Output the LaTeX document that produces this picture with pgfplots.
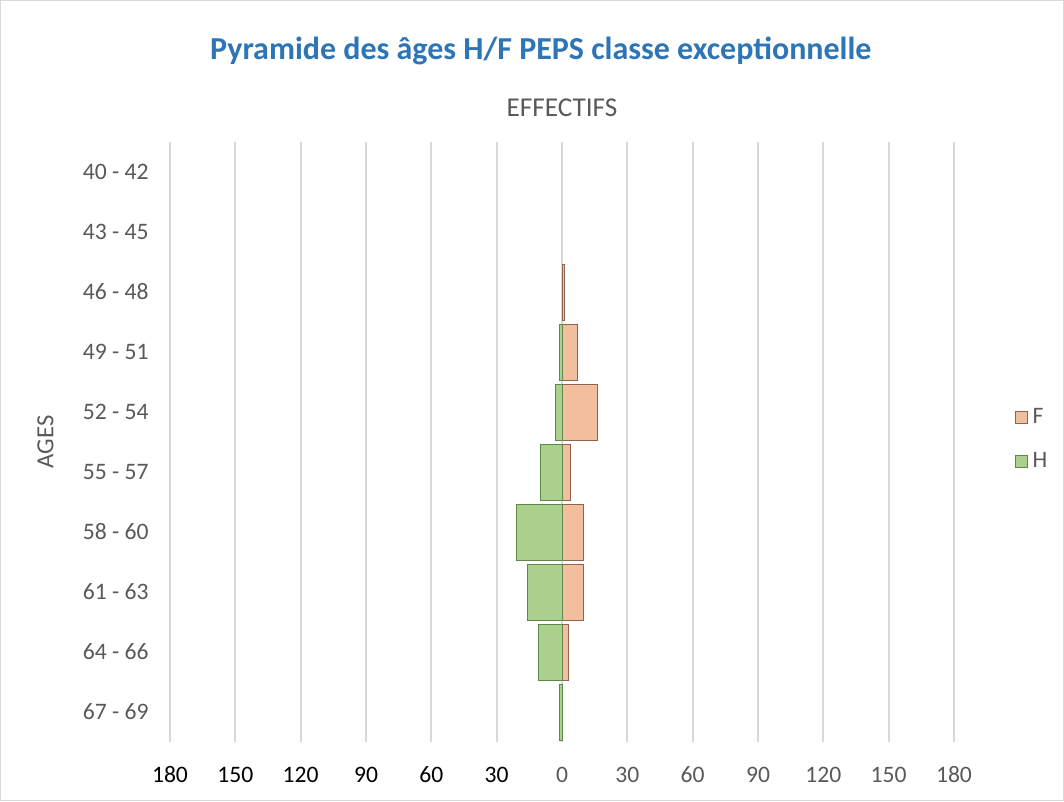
\documentclass[border=0pt]{standalone}
\usepackage{pgfplots}
\pgfplotsset{compat=1.18}
\usepackage{fontspec}
\setmainfont{Carlito}
\definecolor{titleblue}{RGB}{46,117,182}
\definecolor{txtgray}{RGB}{89,89,89}
\definecolor{gridgray}{RGB}{217,217,217}
\definecolor{ffill}{RGB}{242,190,158}
\definecolor{fdraw}{RGB}{140,100,80}
\definecolor{hfill}{RGB}{170,208,140}
\definecolor{hdraw}{RGB}{95,135,75}
\begin{document}
\begin{tikzpicture}
\useasboundingbox (0,0) rectangle (798pt,600.75pt);
\draw[gridgray, line width=0.8pt] (0.4pt,0.4pt) rectangle (797.6pt,600.35pt);
\begin{axis}[
  at={(127.5pt,44.25pt)}, anchor=south west,
  scale only axis, width=588pt, height=450pt,
  xmin=-180, xmax=180, ymin=-0.5, ymax=9.5,
  y dir=reverse,
  axis line style={draw=none},
  major tick length=0pt,
  xtick={-180,-150,...,180},
  xticklabels={180,150,120,90,60,30,\textcolor{txtgray}{0},\textcolor{txtgray}{30},\textcolor{txtgray}{60},\textcolor{txtgray}{90},\textcolor{txtgray}{120},\textcolor{txtgray}{150},\textcolor{txtgray}{180}},
  xticklabel style={font=\fontsize{17.7}{21}\selectfont, text=black, text height=12pt, text depth=0pt, anchor=north, yshift=-15pt},
  ytick={0,...,9},
  yticklabels={40 - 42,43 - 45,46 - 48,49 - 51,52 - 54,55 - 57,58 - 60,61 - 63,64 - 66,67 - 69},
  yticklabel style={font=\fontsize{17.7}{21}\selectfont, text=txtgray, xshift=-12.5pt},
  /pgf/number format/assume math mode=true,
  xmajorgrids, grid style={gridgray, line width=1.3pt},
  xbar, bar shift=0pt, bar width=0.93,
  title={Pyramide des âges H/F PEPS classe exceptionnelle},
  title style={font=\fontsize{24}{28}\bfseries, text=titleblue, at={(axis description cs:0.473,1)}, anchor=center, yshift=62pt},
  xlabel={EFFECTIFS},
  xlabel style={font=\fontsize{20.4}{24}\selectfont, text=txtgray, at={(axis description cs:0.5,1)}, anchor=center, yshift=25.5pt},
  ylabel={AGES},
  ylabel style={font=\fontsize{18.5}{22}\selectfont, text=txtgray, at={(axis description cs:-0.159,0.5)}, anchor=center, rotate=0},
  legend style={at={(axis description cs:1.072,0.565)}, anchor=north west, draw=none, fill=none,
    font=\fontsize{17.7}{21}\selectfont, text=txtgray, row sep=16pt,
    nodes={inner xsep=4pt}},
  legend cell align=left,
  legend image code/.code={\draw[#1, line width=0.4pt] (0pt,-4.5pt) rectangle (9pt,4.5pt);},
]
\addplot[fill=ffill, draw=fdraw, line width=0.5pt] coordinates {
  (1,2) (7,3) (16,4) (4,5) (10,6) (10,7) (3,8)
};
\addlegendentry{F}
\addplot[fill=hfill, draw=hdraw, line width=0.5pt] coordinates {
  (-1,3) (-3,4) (-10,5) (-21,6) (-16,7) (-11,8) (-1,9)
};
\addlegendentry{H}
\end{axis}
\end{tikzpicture}
\end{document}
